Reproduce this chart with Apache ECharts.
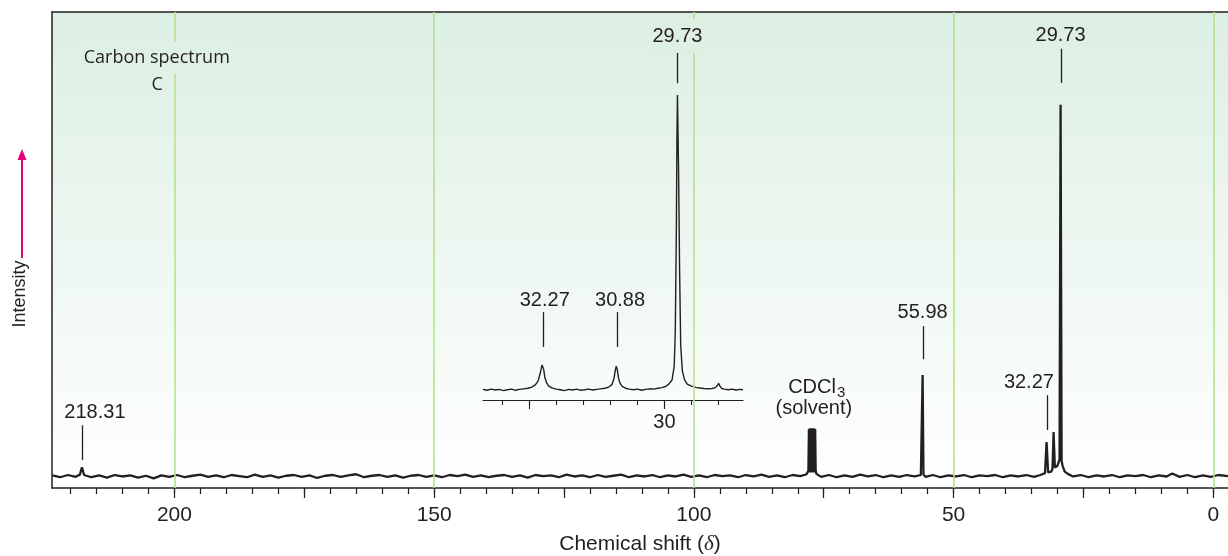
<!DOCTYPE html>
<html>
<head>
<meta charset="utf-8">
<script src="https://cdn.jsdelivr.net/npm/echarts@6/dist/echarts.min.js"></script>
<style>
html,body{margin:0;padding:0;background:#ffffff;}
#chart{width:1228px;height:556px;}
</style>
</head>
<body>
<div id="chart"></div>
<script>
// ---------- data ----------
// main spectrum: [chemical shift (ppm), intensity (tallest peak = 100)]
const mainSpectrum = [
[223.5,0.2],[222,-0.3],[220.5,0.3],[219,-0.2],[218.2,0.4],[217.8,2.4],[217.4,0.3],[216,-0.3],[214.5,0.2],[213,-0.4],
[211.5,0.3],[210,-0.1],[208.5,0.2],[207,-0.4],[205.5,0.1],[204,-0.6],[202.5,0.2],[201,-0.2],[199.5,0.3],[198,-0.3],
[196.5,0.1],[195,0.4],[193.5,-0.2],[192,0.2],[190.5,-0.3],[189,0.3],[187.5,0.0],[186,-0.3],[184.5,0.4],[183,-0.2],
[181.5,0.2],[180,-0.4],[178.5,0.1],[177,0.3],[175.5,-0.2],[174,0.2],[172.5,-0.5],[171,0.1],[169.5,0.3],[168,-0.2],
[166.5,0.2],[165,0.5],[163.5,-0.3],[162,0.1],[160.5,0.3],[159,-0.2],[157.5,0.2],[156,-0.4],[154.5,0.1],[153,0.3],
[151.5,-0.2],[150,0.2],[148.5,-0.3],[147,0.3],[145.5,0.0],[144,0.4],[142.5,-0.2],[141,0.2],[139.5,-0.3],[138,0.1],
[136.5,0.3],[135,-0.2],[133.5,0.2],[132,-0.4],[130.5,0.3],[129,0.0],[127.5,0.2],[126,-0.3],[124.5,0.4],[123,-0.1],
[121.5,0.2],[120,-0.3],[118.5,0.3],[117,-0.2],[115.5,0.1],[114,0.4],[112.5,-0.3],[111,0.2],[109.5,-0.1],[108,0.3],
[106.5,-0.3],[105,0.2],[103.5,-0.1],[102,0.4],[100.5,-0.2],[99,0.2],[97.5,-0.3],[96,0.3],[94.5,0.0],[93,0.2],
[91.5,-0.3],[90,0.3],[88.5,-0.1],[87,0.4],[85.5,-0.2],[84,0.2],[82.5,-0.3],[81,0.3],[79.5,0.0],[78.3,0.5],
[77.95,1.5],[77.85,12.6],[77.75,1.0],[77.65,12.9],[77.55,1.0],[77.45,12.8],[77.35,1.0],[77.25,12.9],[77.15,1.0],[77.05,12.9],
[76.95,1.0],[76.85,12.8],[76.75,1.0],[76.65,12.7],[76.55,1.5],[76.4,0.6],
[75.5,-0.2],[74,0.3],[72.5,-0.3],[71,0.2],[69.5,-0.2],[68,0.4],[66.5,-0.1],[65,0.3],[63.5,-0.3],[62,0.2],
[60.5,-0.2],[59,0.3],[57.5,-0.1],[56.3,0.3],[56.1,0.6],[55.96,27.2],[55.8,0.5],[55.4,-0.2],[54,0.3],[52.5,-0.3],
[51,0.2],[49.5,-0.1],[48,0.3],[46.5,-0.3],[45,0.2],[43.5,0.0],[42,0.3],[40.5,-0.3],[39,0.2],[37.5,-0.1],
[36,0.3],[34.5,-0.2],[33.3,0.3],[32.4,0.8],[32.1,9.2],[31.8,1.0],[31.2,1.2],[30.95,2.0],[30.75,11.9],[30.5,2.3],
[30.0,2.8],[29.6,4.5],[29.4,100],[29.2,4.0],[29.0,2.7],[28.6,1.2],[28.0,0.6],[27.0,-0.1],[25.5,0.3],[24,-0.3],
[22.5,0.2],[21,-0.1],[19.5,0.3],[18,-0.3],[16.5,0.2],[15,0.0],[13.5,0.3],[12,-0.3],[10.5,0.2],[9,-0.1],
[7.9,0.7],[6.5,-0.2],[5,0.3],[3.5,-0.3],[2,0.2],[0.5,-0.2],[-1,0.3],[-2.83,0.0]
];

// expanded inset spectrum (28.5 - 33.4 ppm)
const insetSpectrum = [
[33.35,0.2],[33.28,-0.1],[33.2,0.3],[33.12,0.0],[33.05,0.2],[32.97,-0.2],[32.9,0.1],[32.82,0.3],[32.75,-0.1],[32.68,0.2],
[32.6,0.4],[32.52,0.6],[32.45,1.0],[32.38,1.8],[32.33,3.2],[32.29,6.0],[32.26,8.5],[32.25,9.0],[32.23,7.0],[32.21,4.5],
[32.18,2.6],[32.14,1.4],[32.08,0.7],[32.0,0.3],[31.92,0.1],[31.85,-0.2],[31.77,0.2],[31.7,0.0],[31.62,0.3],[31.55,-0.1],
[31.47,0.1],[31.4,0.3],[31.32,0.0],[31.25,0.2],[31.18,0.4],[31.1,0.6],[31.03,1.0],[30.97,1.8],[30.93,4.0],[30.91,6.5],
[30.89,8.1],[30.87,6.8],[30.85,4.2],[30.82,2.3],[30.78,1.2],[30.72,0.6],[30.65,0.3],[30.57,0.1],[30.5,0.3],[30.42,-0.1],
[30.35,0.2],[30.27,0.4],[30.2,0.3],[30.12,0.6],[30.05,0.8],[29.98,1.2],[29.92,2.0],[29.86,3.4],[29.82,8],[29.8,20],
[29.78,55],[29.77,85],[29.76,100],[29.74,75],[29.72,40],[29.7,15],[29.67,6.5],[29.63,3.5],[29.58,2.0],[29.5,1.3],
[29.42,0.9],[29.35,0.7],[29.27,0.5],[29.2,0.4],[29.12,0.5],[29.06,0.8],[29.02,1.6],[29.0,2.3],[28.98,1.5],[28.95,0.6],
[28.9,0.3],[28.82,0.1],[28.75,0.3],[28.68,0.0],[28.6,0.2],[28.55,0.1]
];

// axis ticks and labels
const mainGridLines   = [0, 50, 100, 150, 200];
const mainTickLabels  = [0, 50, 100, 150, 200];
const mainMajorTicks  = [0, 25, 50, 75, 100, 125, 150, 175, 200];
const mainMinorTicks  = [0,5,10,15,20,25,30,35,40,45,50,55,60,65,70,75,80,85,90,95,100,105,110,115,120,125,130,135,140,145,150,155,160,165,170,175,180,185,190,195,200,205,210,215,220];
const insetTickLabels = [30];
const insetMajorTicks = [30, 32.5];
const insetMinorTicks = [29, 29.5, 30, 30.5, 31, 31.5, 32, 32.5, 33];

// peak annotations: label, [tick shift, tick from, tick to], [text shift, text level]
const mainAnnotations = [
  {label:'218.31', tick:[217.8, 4.3, 13.7], at:[215.3, 17.1]},
  {label:'55.98',  tick:[55.96, 31.5, 40.4], at:[55.96, 44.2]},
  {label:'32.27',  tick:[32.1, 12.4, 21.8], at:[35.5, 25.1]},
  {label:'29.73',  tick:[29.4, 105.9, 115.1], at:[29.4, 118.7]},
  {label:'CDCl', sub:'3', at:[72.65, 24.0], align:'right'},
  {label:'(solvent)', at:[76.9, 18.1]},
  {label:'Carbon spectrum', at:[203.4, 112.7], bg:true, font:'side'},
  {label:'C', at:[203.3, 105.4], font:'side'}
];
const insetAnnotations = [
  {label:'32.27', tick:[32.24, 14.6, 26.4], at:[32.21, 30.5]},
  {label:'30.88', tick:[30.87, 14.6, 26.4], at:[30.82, 30.5]},
  {label:'29.73', tick:[29.76, 104, 115.6], at:[29.76, 120], bg:true}
];

// ---------- styling ----------
const INK = '#231f20';
const GRIDGREEN = '#b6e28f';
const BG_TOP = [220, 239, 227];
const BG_BOTTOM = [255, 255, 255];
const PLOT_TOP = 12, PLOT_H = 476;
const NUMFONT = '20px "Liberation Sans", Arial, sans-serif';
const SIDEFONT = '18px "Open Sans", "Noto Sans", sans-serif';

function bgAt(y) {
  const f = Math.max(0, Math.min(1, (y - PLOT_TOP) / PLOT_H));
  const c = BG_TOP.map((v, i) => Math.round(v + (BG_BOTTOM[i] - v) * f));
  return 'rgb(' + c.join(',') + ')';
}

function annoRenderer(list) {
  return function (params, api) {
    const a = list[params.dataIndex];
    const children = [];
    if (a.tick) {
      const p1 = api.coord([a.tick[0], a.tick[1]]);
      const p2 = api.coord([a.tick[0], a.tick[2]]);
      children.push({type:'line', shape:{x1:Math.round(p1[0])+0.5, y1:p1[1], x2:Math.round(p2[0])+0.5, y2:p2[1]},
        style:{stroke:INK, lineWidth:1.3}});
    }
    const t = api.coord(a.at);
    const st = {
      text:a.label, fill:INK,
      font: a.font === 'side' ? SIDEFONT : NUMFONT,
      align: a.align || 'center', verticalAlign:'middle'
    };
    if (a.bg) { st.backgroundColor = bgAt(t[1]); st.padding = [8, 3, 6, 3]; }
    children.push({type:'text', x:t[0], y:t[1], style:st});
    if (a.sub) {
      children.push({type:'text', x:t[0]+1, y:t[1]+6, style:{text:a.sub, fill:INK,
        font:'15px "Liberation Sans", Arial, sans-serif', align:'left', verticalAlign:'middle'}});
    }
    return {type:'group', children};
  };
}

const chart = echarts.init(document.getElementById('chart'), null, {renderer:'canvas'});
const option = {
  animation:false,
  backgroundColor:'#ffffff',
  grid:[
    {left:52, right:0, top:PLOT_TOP, bottom:68, show:true, borderWidth:0,
     containLabel:false, outerBoundsMode:'none',
     backgroundColor:{type:'linear', x:0, y:0, x2:0, y2:1,
       colorStops:[{offset:0, color:'rgb(' + BG_TOP.join(',') + ')'}, {offset:1, color:'rgb(' + BG_BOTTOM.join(',') + ')'}]}},
    {left:483, width:260, top:95, height:305, containLabel:false, outerBoundsMode:'none'}
  ],
  xAxis:[
    {gridIndex:0, type:'value', inverse:true, min:-2.83, max:223.57, position:'bottom',
     axisLine:{show:true, onZero:false, lineStyle:{color:INK, width:1.5}},
     axisTick:{show:true, customValues:mainMinorTicks, length:6, lineStyle:{color:INK, width:1.2}},
     axisLabel:{show:true, customValues:mainTickLabels, color:INK, fontSize:21, margin:17,
       fontFamily:'"Liberation Sans", Arial, sans-serif'},
     splitLine:{show:false},
     name:'Chemical shift ({d|δ})', nameLocation:'middle', nameGap:46,
     nameTextStyle:{color:INK, fontSize:21, fontFamily:'"Liberation Sans", Arial, sans-serif',
       rich:{d:{fontFamily:'"Liberation Serif", serif', fontStyle:'italic', fontSize:21, color:INK}}}},
    {gridIndex:0, type:'value', inverse:true, min:-2.83, max:223.57, position:'bottom',
     axisLine:{show:false, onZero:false},
     axisTick:{show:true, customValues:mainMajorTicks, length:10, lineStyle:{color:INK, width:1.2}},
     axisLabel:{show:false}, splitLine:{show:false}},
    {gridIndex:0, type:'value', inverse:true, min:-2.83, max:223.57, position:'top',
     axisLine:{show:true, onZero:false, lineStyle:{color:INK, width:1.6}},
     axisTick:{show:false}, axisLabel:{show:false}, splitLine:{show:false}},
    {gridIndex:1, type:'value', inverse:true, min:28.55, max:33.35, position:'bottom',
     axisLine:{show:true, onZero:false, lineStyle:{color:INK, width:1.2}},
     axisTick:{show:true, customValues:insetMinorTicks, length:5, lineStyle:{color:INK, width:1.1}},
     axisLabel:{show:true, customValues:insetTickLabels, color:INK, fontSize:20, margin:12,
       fontFamily:'"Liberation Sans", Arial, sans-serif'},
     splitLine:{show:false}},
    {gridIndex:1, type:'value', inverse:true, min:28.55, max:33.35, position:'bottom',
     axisLine:{show:false, onZero:false},
     axisTick:{show:true, customValues:insetMajorTicks, length:9, lineStyle:{color:INK, width:1.1}},
     axisLabel:{show:false}, splitLine:{show:false}}
  ],
  yAxis:[
    {gridIndex:0, type:'value', min:-3.2, max:125,
     axisLine:{show:true, onZero:false, lineStyle:{color:INK, width:1.5}},
     axisTick:{show:false}, axisLabel:{show:false}, splitLine:{show:false}},
    {gridIndex:1, type:'value', min:-3.39, max:100, show:false}
  ],
  series:[
    {type:'line', xAxisIndex:0, yAxisIndex:0, data:[], silent:true, z:1,
     markLine:{silent:true, symbol:'none', label:{show:false},
       lineStyle:{color:GRIDGREEN, width:1.6, type:'solid'},
       data:mainGridLines.map(v => ({xAxis:v}))}},
    {type:'line', xAxisIndex:0, yAxisIndex:0, data:mainSpectrum, symbol:'none', z:3,
     lineStyle:{color:INK, width:2.3}, clip:false},
    {type:'line', xAxisIndex:3, yAxisIndex:1, data:insetSpectrum, symbol:'none', z:3,
     lineStyle:{color:INK, width:1.4}, clip:false},
    {type:'custom', xAxisIndex:0, yAxisIndex:0, z:5, silent:true,
     data:mainAnnotations.map(a => a.at), renderItem:annoRenderer(mainAnnotations)},
    {type:'custom', xAxisIndex:3, yAxisIndex:1, z:5, silent:true,
     data:insetAnnotations.map(a => a.at), renderItem:annoRenderer(insetAnnotations)}
  ],
  graphic:[
    {type:'line', shape:{x1:22, y1:258, x2:22, y2:158}, style:{stroke:'#e5007d', lineWidth:2}, z:10},
    {type:'polygon', shape:{points:[[22,149],[17.5,160],[26.5,160]]}, style:{fill:'#e5007d'}, z:10},
    {type:'text', x:20, y:294, rotation:Math.PI/2,
     style:{text:'Intensity', fill:INK, font:'18px "Liberation Sans", Arial, sans-serif',
       align:'center', verticalAlign:'middle'}, z:10}
  ]
};
chart.setOption(option);
</script>
</body>
</html>
